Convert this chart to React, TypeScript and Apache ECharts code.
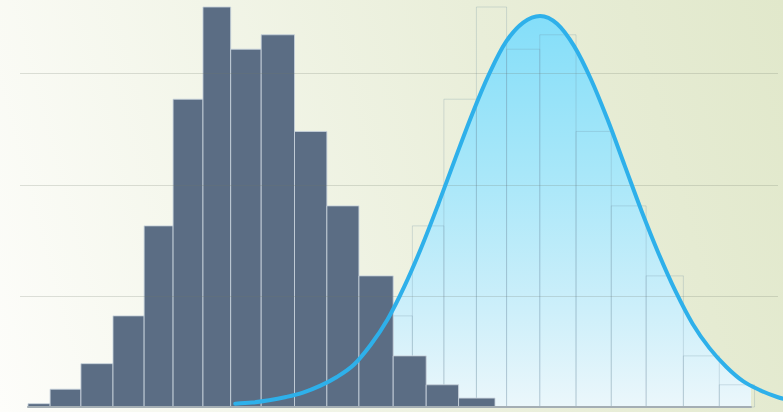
import React, { useEffect, useRef } from "react";
import * as echarts from "echarts";

// Histogram counts per bin
const counts = [3, 16, 39, 82, 163, 277, 360, 322, 335, 248, 181, 118, 46, 20, 8];
// Bin edges (x units)
const binEdges = [0, 0.71, 1.7, 2.73, 3.73, 4.66, 5.62, 6.51, 7.49, 8.56, 9.6, 10.63, 11.73, 12.79, 13.83, 15];
// Fitted bell curve [x, count]
const curveX = [-1.5, -1.0, -0.5, 0, 0.5, 1.0, 1.5, 2.0, 2.5, 3.0, 3.5, 4.0, 4.5, 5.0, 5.5, 6.0, 6.5, 7.0, 7.5, 8.0, 8.5, 9.0, 9.5, 10.0, 10.5, 11.0, 11.5, 12.0, 12.5, 13.0, 13.5, 14.0, 14.5, 15.0];
const curveY = [3, 4, 6, 9, 13, 19, 27, 38, 56, 79, 109, 144, 183, 224, 264, 300, 329, 346, 352, 345, 325, 295, 258, 217, 176, 138, 104, 75, 53, 36, 23, 15, 9, 5];
const fillEnd = 13.7;
// Range of the re-plotted (fit) x axis
const fitXMin = -2.54;
const fitXMax = 14.67;
const yTicks = [0, 100, 200, 300];
const yMax = 360;

export default function App() {
  const ref = useRef<HTMLDivElement>(null);
  useEffect(() => {
    document.body.style.margin = "0";
    if (!ref.current) return;
    const chart = echarts.init(ref.current, null, { renderer: "svg" });
    const histData = counts.map((c, i) => [binEdges[i], binEdges[i + 1], c]);
    const ghostData = histData.filter((d) => d[0] < fillEnd);
    const curve = curveX.map((x, i) => [x, curveY[i]]);

    const hidden = { show: false };
    const yBase = { type: "value" as const, min: 0, max: yMax, show: false };
    const grids = [
      { left: 20, right: 5, top: 7, bottom: 5 },
      { left: 28, right: 32, top: 7, bottom: 5 },
      { left: 28, right: 288, top: 7, bottom: 5 },
      { left: 200, right: 0, top: 7, bottom: 5 },
      // fill area region: same scale as grid 3, ends where the fill stops
      { left: 200, right: 32, top: 0, bottom: 5 },
    ];
    const rectItem = (style: any) => (params: any, api: any) => {
      const x0 = api.value(0);
      const x1 = api.value(1);
      const c = api.value(2);
      const p0 = api.coord([x0, c]);
      const p1 = api.coord([x1, 0]);
      return {
        type: "rect",
        shape: { x: p0[0], y: p0[1], width: p1[0] - p0[0], height: p1[1] - p0[1] },
        style,
      };
    };

    chart.setOption({
      animation: false,
      grid: grids,
      xAxis: [
        { type: "value", gridIndex: 0, min: 0, max: 1, show: false },
        {
          type: "value", gridIndex: 1, min: 0, max: 1, show: true,
          axisLabel: hidden, axisTick: hidden, splitLine: hidden,
          axisLine: { show: true, lineStyle: { color: "#a4aeb4", width: 2 } },
          z: 4,
        },
        { type: "value", gridIndex: 2, min: 0, max: 15, show: false },
        { type: "value", gridIndex: 3, min: fitXMin, max: fitXMax, show: false },
        { type: "value", gridIndex: 4, min: fitXMin, max: fillEnd, show: false },
      ],
      yAxis: [
        {
          type: "value", gridIndex: 0, min: 0, max: yMax, interval: yTicks[1] - yTicks[0],
          axisLine: hidden, axisTick: hidden, axisLabel: hidden,
          splitLine: {
            show: true, showMinLine: false, showMaxLine: false,
            lineStyle: { color: "rgba(110,120,105,0.22)", width: 1 },
          },
          z: 5,
        },
        { ...yBase, gridIndex: 1 },
        { ...yBase, gridIndex: 2 },
        { ...yBase, gridIndex: 3 },
        { type: "value", gridIndex: 4, min: 0, max: yMax * 407 / 400, show: false },
      ],
      series: [
        {
          type: "line",
          xAxisIndex: 4, yAxisIndex: 4,
          data: curve,
          smooth: 0.35,
          symbol: "none",
          lineStyle: { width: 0 },
          areaStyle: {
            opacity: 1,
            color: {
              type: "linear", x: 0, y: 0, x2: 0, y2: 1,
              colorStops: [
                { offset: 0, color: "#84def9" },
                { offset: 0.4, color: "#a8e7f9" },
                { offset: 0.75, color: "#cdeffa" },
                { offset: 1, color: "#ebf7fb" },
              ],
            },
          },
          z: 1,
          silent: true,
        },
        {
          type: "custom",
          xAxisIndex: 3, yAxisIndex: 3,
          data: ghostData,
          encode: { x: [0, 1], y: 2 },
          renderItem: rectItem({ fill: "rgba(255,255,255,0)", stroke: "rgba(110,145,165,0.25)", lineWidth: 1 }),
          z: 2,
          silent: true,
        },
        {
          type: "custom",
          xAxisIndex: 2, yAxisIndex: 2,
          data: histData,
          encode: { x: [0, 1], y: 2 },
          renderItem: rectItem({ fill: "#5b6d84", stroke: "rgba(200,210,220,0.85)", lineWidth: 1 }),
          z: 3,
          silent: true,
        },
        {
          type: "line",
          xAxisIndex: 3, yAxisIndex: 3,
          data: curve,
          smooth: 0.35,
          symbol: "none",
          lineStyle: { color: "#2eb0ea", width: 4, cap: "round" },
          z: 6,
          silent: true,
        },
      ],
    });
    return () => chart.dispose();
  }, []);

  return (
    <div
      ref={ref}
      style={{
        width: 783,
        height: 412,
        background: "linear-gradient(75deg, #fdfdfa 0%, #f2f5e8 35%, #e9eed9 65%, #e1e8cb 100%)",
      }}
    />
  );
}
